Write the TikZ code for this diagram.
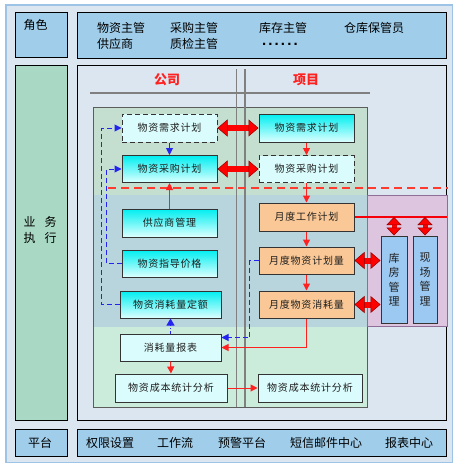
\documentclass[tikz,border=0pt]{standalone}
\usepackage{fontspec}
\newfontfamily\cjk{Noto Sans CJK SC}
\newfontfamily\cjkbox[LetterSpace=8]{Noto Sans CJK SC}
\newfontfamily\dotfont[LetterSpace=14]{Liberation Sans}
\usetikzlibrary{arrows.meta,calc}
\definecolor{bg}{HTML}{DCE6F0}
\definecolor{outerb}{HTML}{9DC3E6}
\definecolor{rolefill}{HTML}{9FCDEA}
\definecolor{mint}{HTML}{A9D9C4}
\definecolor{pgreen}{HTML}{C4DFD0}
\definecolor{pband}{HTML}{B8D4DC}
\definecolor{pbottom}{HTML}{CBEBDB}
\definecolor{purp}{HTML}{DDC5DF}
\definecolor{purpline}{HTML}{8E6E97}
\definecolor{cyT}{HTML}{00EEF0}
\definecolor{cyB}{HTML}{DDFFFF}
\definecolor{lcy}{HTML}{DBFCFC}
\definecolor{orng}{HTML}{FAC896}
\definecolor{kblue}{HTML}{9CC9F2}
\definecolor{boxline}{HTML}{333333}
\definecolor{redc}{HTML}{FF2020}
\definecolor{dred}{HTML}{FF3B2F}
\definecolor{bluec}{HTML}{2424F0}
\definecolor{grayl}{HTML}{808080}
\definecolor{txt}{HTML}{1E1E1E}
\tikzset{
  labtext/.style={font=\cjk\fontsize{12}{14}\selectfont, text=black, inner sep=0pt},
  roletext/.style={labtext, anchor=west},
  basebox/.style={draw=boxline, line width=1pt, minimum height=27pt, inner sep=0pt,
    font=\cjkbox\fontsize{10}{12}\selectfont, text=txt},
  cbox/.style={basebox, top color=cyT, bottom color=cyB},
  dbox/.style={basebox, fill=lcy, dashed, dash pattern=on 5pt off 3pt},
  lbox/.style={basebox, fill=lcy},
  obox/.style={basebox, fill=orng},
  kbox/.style={basebox, fill=kblue, align=center, font=\cjk\fontsize{11}{14.5}\selectfont},
  rarr/.style={draw=redc, line width=1pt, -{Triangle[length=7pt,width=7pt]}},
  barr/.style={draw=bluec, line width=1pt, dashed, dash pattern=on 5pt off 3pt, -{Triangle[length=7pt,width=7pt]}},
  bsolid/.style={draw=bluec, line width=1pt, -{Triangle[length=7pt,width=7pt]}},
  bdashdot/.style={draw=bluec, line width=1pt, dash pattern=on 3pt off 2pt on 1pt off 2pt, -{Triangle[length=7pt,width=8pt]}},
  bigdbl/.style={draw=red, line width=6pt,
    {Triangle[length=10pt,width=17pt,line width=0.5pt,fill=red,color=red!55!black]}-{Triangle[length=10pt,width=17pt,line width=0.5pt,fill=red,color=red!55!black]}},
  smdbl/.style={draw=red, line width=5pt,
    {Triangle[length=8pt,width=15pt,line width=0.5pt,fill=red,color=red!55!black]}-{Triangle[length=8pt,width=15pt,line width=0.5pt,fill=red,color=red!55!black]}},
  headtext/.style={font=\cjk\bfseries\fontsize{13}{15}\selectfont, text=redc, inner sep=0pt},
}
\begin{document}
\begin{tikzpicture}[x=1pt,y=-1pt]
\useasboundingbox (0,0) rectangle (458,466);
\fill[white] (0,0) rectangle (458,466);
\draw[draw=outerb, fill=bg, line width=1.2pt] (6,5) rectangle (452.5,462.5);
% row frames
\draw[fill=rolefill, line width=1pt] (15,12.5) rectangle (67,57.5);
\draw[fill=rolefill, line width=1pt] (77,12.5) rectangle (446,58);
\draw[fill=mint, line width=1pt] (15,65) rectangle (67,420);
\draw[fill=bg, line width=1pt] (77,65) rectangle (446,420);
\draw[fill=rolefill, line width=1pt] (15,429) rectangle (67,456);
\draw[fill=rolefill, line width=1pt] (77,429) rectangle (446,456);
% row labels
\node[labtext] (tRole) at (35.5,25) {角色};
\node[labtext, align=left] (tExec) at (40,230) {业\hspace{9pt}务\\[2pt]执\hspace{9pt}行};
\node[labtext] (tPlat) at (40,443) {平台};
% roles
\node[roletext] (r1) at (97,28) {物资主管};
\node[roletext] (r2) at (170,28) {采购主管};
\node[roletext] (r3) at (259,28) {库存主管};
\node[roletext] (r4) at (344,28) {仓库保管员};
\node[roletext] (r5) at (97,44) {供应商};
\node[roletext] (r6) at (170,44) {质检主管};
\node[anchor=base west, inner sep=0pt, text height=3pt, text depth=0pt,
  font=\dotfont\bfseries\fontsize{15}{15}\selectfont] (r7) at (262,45.5) {......};
% platform
\node[roletext] (p1) at (86,443) {权限设置};
\node[roletext] (p2) at (157,443) {工作流};
\node[roletext] (p3) at (218,443) {预警平台};
\node[roletext] (p4) at (290,443) {短信邮件中心};
\node[roletext] (p5) at (385,443) {报表中心};
% panel
\fill[pgreen] (93,107) rectangle (367,195);
\fill[pband] (93,195) rectangle (367,327);
\fill[pbottom] (93,327) rectangle (367,407);
\draw[draw=boxline!80, line width=0.8pt] (93,107) rectangle (367,407);
\draw[fill=purp, draw=purpline, line width=0.8pt] (367,195) rectangle (447,326);
% headers and gray lines
\node[headtext] (hC) at (167,80) {公司};
\node[headtext] (hP) at (306,80) {项目};
\draw[grayl, line width=1.8pt] (90,93) -- (370,93);
\draw[grayl, line width=1.5pt] (236.7,69) -- (236.7,407);
\draw[grayl, line width=1.5pt] (245,69) -- (245,407);
% red dashed separator
\draw[dred, line width=1.3pt, dash pattern=on 8pt off 5pt] (108,188) -- (448,188);
% company nodes
\node[dbox, minimum width=95pt, minimum height=28pt] (L1) at (169.5,128) {物资需求计划};
\node[cbox, minimum width=95pt] (L2) at (169.5,169) {物资采购计划};
\node[cbox, minimum width=95pt, minimum height=28pt] (L3) at (169.5,223) {供应商管理};
\node[cbox, minimum width=95pt] (L4) at (169.5,263.5) {物资指导价格};
\node[cbox, minimum width=101pt] (L5) at (170.5,304.5) {物资消耗量定额};
\node[lbox, minimum width=101pt] (L6) at (170.5,347.5) {消耗量报表};
\node[lbox, minimum width=112pt, minimum height=28pt] (L7) at (171,388) {物资成本统计分析};
% project nodes
\node[cbox, minimum width=95pt, minimum height=28pt] (R1) at (306.5,128) {物资需求计划};
\node[dbox, minimum width=95pt] (R2) at (306.5,169) {物资采购计划};
\node[obox, minimum width=95pt, minimum height=28pt] (R3) at (306.5,217) {月度工作计划};
\node[obox, minimum width=95pt] (R4) at (306.5,260.5) {月度物资计划量};
\node[obox, minimum width=95pt] (R5) at (306.5,304.5) {月度物资消耗量};
\node[lbox, minimum width=104pt, minimum height=28pt] (R7) at (310,388) {物资成本统计分析};
% warehouse boxes
\node[kbox, minimum width=26pt, minimum height=87pt] (K1) at (394,279.5) {库\\房\\管\\理};
\node[kbox, minimum width=24pt, minimum height=87pt] (K2) at (425,279.5) {现\\场\\管\\理};
% red line from monthly work plan
\coordinate (redEnd) at (447,217);
\draw[draw=red!85!purple, line width=1.3pt] (R3.east) -- (redEnd);
\coordinate (k1top) at (K1.north |- R3.east);
\coordinate (k2top) at (K2.north |- R3.east);
\draw[smdbl] (k1top) -- (K1.north);
\draw[smdbl] (k2top) -- (K2.north);
\draw[bigdbl] (R4.east) -- (R4.east -| K1.west);
\draw[bigdbl] (R5.east) -- (R5.east -| K1.west);
% company <-> project
\draw[bigdbl] (L1.east) -- (R1.west);
\draw[bigdbl] (L2.east) -- (R2.west);
% connectors
\draw[bsolid] (L1.south) -- (L2.north);
\draw[rarr] (L3.north) -- (L2.south);
\draw[barr] (L5.west) -- ++(-18,0) |- (L1.west);
\draw[barr] (L4.west) -- ++(-15,0) |- (L2.west);
\draw[bdashdot] (L6.north) -- (L5.south);
\draw[rarr] (L6.south) -- (L7.north);
\draw[rarr] (L7.east) -- (R7.west);
\draw[rarr] (R1.south) -- (R2.north);
\draw[rarr] (R2.south) -- (R3.north);
\draw[rarr] (R3.south) -- (R4.north);
\draw[rarr] (R4.south) -- (R5.north);
\draw[rarr] (R5.south) |- (L6.east);
\draw[barr] (R4.west) -- ++(-9,0) |- ([yshift=10pt]L6.east);
\end{tikzpicture}
\end{document}
